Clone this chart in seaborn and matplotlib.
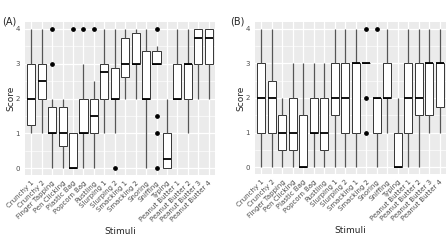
import numpy as np
import pandas as pd
import matplotlib
matplotlib.use("Agg")
import matplotlib.pyplot as plt
import seaborn as sns
from matplotlib.ticker import MultipleLocator

stimuli_a = ["Crunchy 1", "Crunchy 2", "Finger Tapping", "Pen Clicking", "Plastic Bag",
             "Popcorn Bag", "Rustling", "Slurping 1", "Slurping 2", "Smacking 1",
             "Smacking 2", "Snoring", "Sniffing", "Typing", "Peanut Butter 1",
             "Peanut Butter 2", "Peanut Butter 3", "Peanut Butter 4"]
stimuli_b = ["Crunchy 1", "Crunchy 2", "Finger Tapping", "Pen Clicking", "Plastic Bag",
             "Popcorn Bag", "Rustling", "Slurping 1", "Slurping 2", "Smacking 1",
             "Smacking 2", "Snoring", "Sniffing", "Typing", "Peanut Butter 1",
             "Peanut Butter 2", "Peanut Butter 3", "Peanut Butter 4"]

# Estimated scores per stimulus, panel A
scores_a = [
    [1, 1.25, 2, 3, 4],
    [1, 2, 2.5, 3, 4],
    [0, 0.5, 1, 1, 1, 1, 1, 1.5, 1.75, 1.75, 2, 3, 4],
    [0, 0.625, 1, 1.75, 2],
    [0, 0, 0, 0, 0, 0.5, 1, 1, 4],
    [0, 1, 1, 1, 1, 1.5, 2, 3, 4],
    [0, 1, 1, 1, 1.5, 2, 2, 2.5, 4],
    [1, 2, 2.75, 3, 4],
    [0, 1, 2, 2, 2, 2.5, 2.875, 3.5, 4],
    [2, 2.625, 3, 3.75, 4],
    [2, 3, 3, 3.875, 4],
    [0, 2, 2, 3.375, 4],
    [0, 1, 1.5, 3, 3, 3, 3, 3, 3, 3.375, 3.5, 3.5, 4],
    [0, 0, 0.25, 1, 2],
    [2, 2, 2, 3, 4],
    [1, 2, 3, 3, 4],
    [2, 3, 3.75, 4, 4],
    [2, 3, 3.75, 4, 4],
]
# Estimated scores per stimulus, panel B
scores_b = [
    [0, 1, 2, 3, 4],
    [0, 1, 2, 2.5, 4],
    [0, 0.5, 1, 1.5, 2],
    [0, 0.5, 1, 2, 3],
    [0, 0, 0, 1.5, 3],
    [0, 1, 1, 2, 3],
    [0, 0.5, 1, 2, 3],
    [0, 1.5, 2, 3, 4],
    [0, 1, 2, 3, 4],
    [0, 1, 3, 3, 4],
    [1, 2, 3, 3, 3, 3, 3, 3, 4],
    [0, 1, 2, 2, 4],
    [1, 2, 2, 3, 4],
    [0, 0, 0, 1, 2],
    [0, 1, 2, 3, 4],
    [0, 1.5, 2, 3, 4],
    [1, 1.5, 3, 3, 4],
    [1, 1.75, 3, 3, 4],
]
y_ticks = [0, 1, 2, 3, 4]


def long_df(names, scores):
    rows = []
    for n, s in zip(names, scores):
        for v in s:
            rows.append((n, v))
    return pd.DataFrame(rows, columns=["Stimuli", "Score"])


df_a = long_df(stimuli_a, scores_a)
df_b = long_df(stimuli_b, scores_b)

sns.set_theme(style="darkgrid")
plt.rcParams["font.family"] = ["DejaVu Sans"]

fig = plt.figure(figsize=(4.48, 2.52), dpi=100)
ax_a = fig.add_axes([25 / 448, 77 / 252, 190 / 448, 153 / 252])
ax_b = fig.add_axes([255 / 448, 78 / 252, 191 / 448, 152 / 252])

edge = "#333333"
for ax, df, order, tag, tx in [(ax_a, df_a, stimuli_a, "(A)", 2), (ax_b, df_b, stimuli_b, "(B)", 230)]:
    sns.boxplot(data=df, x="Stimuli", y="Score", order=order, ax=ax,
                color="white", width=0.78, linewidth=0.7, linecolor=edge,
                whis=1.5,
                boxprops=dict(facecolor="white", edgecolor=edge),
                whiskerprops=dict(color="#555555", linewidth=0.9),
                capprops=dict(linewidth=0),
                medianprops=dict(color="black", linewidth=1.3),
                flierprops=dict(marker="o", markersize=2.4, markerfacecolor="black",
                                markeredgecolor="black"))
    ax.set_facecolor("#EBEBEB")
    ax.set_xlim(-0.6, len(order) - 0.4)
    ax.set_ylim(-0.2, 4.2)
    ax.set_yticks(y_ticks)
    ax.set_yticklabels([str(t) for t in y_ticks])
    ax.yaxis.set_minor_locator(MultipleLocator(0.5))
    ax.grid(which="major", color="white", linewidth=0.9)
    ax.grid(which="minor", axis="y", color="white", linewidth=0.45)
    ax.set_axisbelow(True)
    for sp in ax.spines.values():
        sp.set_visible(False)
    ax.tick_params(axis="both", which="major", length=2, width=0.6, color=edge,
                   labelsize=5, labelcolor="#4D4D4D", pad=1.5)
    ax.tick_params(axis="both", which="minor", length=0)
    ax.set_xticks(range(len(order)))
    ax.set_xticklabels(order, rotation=45, ha="right", rotation_mode="anchor")
    ax.set_xlabel("Stimuli", fontsize=6.5, labelpad=3)
    ax.set_ylabel("Score", fontsize=6.5, labelpad=0.5)
    fig.text(tx / 448, 1 - 25 / 252, tag, fontsize=7, ha="left", va="baseline")

fig.savefig("out.png", dpi=100)
